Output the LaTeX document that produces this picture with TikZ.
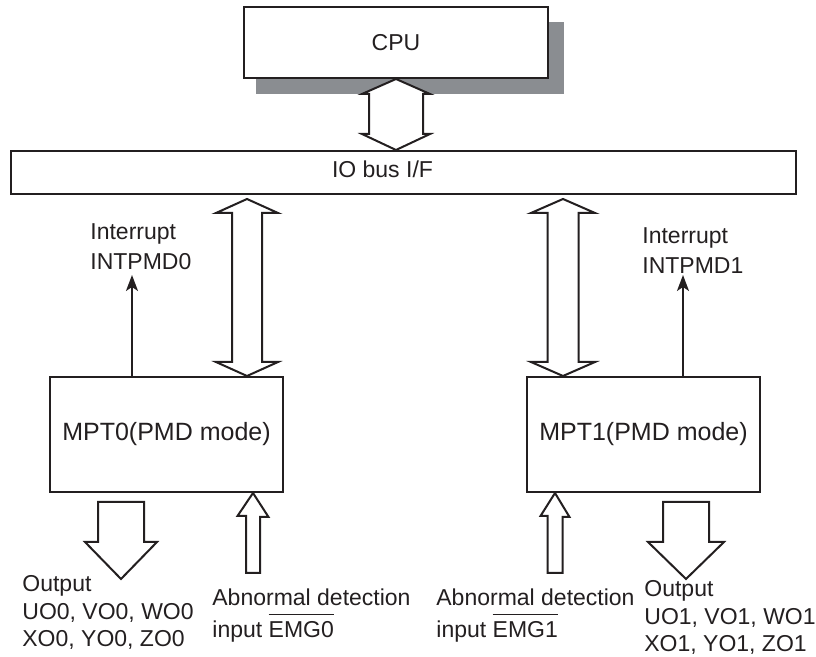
\documentclass[tikz,border=0pt]{standalone}
\usepackage{fontspec}
\setmainfont{Liberation Sans}
\usetikzlibrary{positioning, arrows.meta, calc, backgrounds}
\definecolor{linedark}{RGB}{35,31,32}
\definecolor{shadowgray}{RGB}{138,141,145}

\begin{document}
\begin{tikzpicture}[
  % one unit = one pixel of the sketch, y runs downwards
  x=0.5pt, y=-0.5pt,
  >=Stealth,
  % box style
  blockbox/.style={
    draw=linedark, line width=1pt, fill=white, inner sep=0pt,
    text=linedark, font=\fontsize{11.5}{14}\selectfont
  },
  % hollow block arrow style
  blockarrow/.style={draw=linedark, line width=1pt, fill=white},
  % thin interrupt arrow
  intarrow/.style={draw=linedark, line width=1pt,
    -{Stealth[length=8pt, width=6pt, inset=2pt]}},
  % free text
  lbl/.style={
    anchor=north west, inner sep=0pt, align=left, text=linedark,
    font=\fontsize{11.5}{13.75}\selectfont
  }
]

\useasboundingbox (0,0) rectangle (816,657);

% ─── CPU and IO bus ─────────────────────────────────────────────────────────
\node[blockbox, minimum width=152pt, minimum height=35.5pt] (cpu)
  at (396,42.5) {CPU};
\begin{scope}[on background layer]
  \fill[shadowgray] ($(cpu.south west)+(13,15)$) rectangle ($(cpu.north east)+(15,16)$);
\end{scope}

\node[blockbox, minimum width=392.5pt, minimum height=21.5pt] (iobus)
  at (403.5,172.5) {};
\node[lbl, anchor=center] (iobuslbl) at (382.5,169) {IO bus I/F};

% cpu <-> bus
\draw[blockarrow] (cpu.south) -- ++(34,15) -- ++(-7,0)
  -- ($(cpu.south |- iobus.north)+(27,-16)$) -- ++(7,0)
  -- (cpu.south |- iobus.north) -- ++(-34,-16) -- ++(7,0)
  -- ($(cpu.south)+(-27,15)$) -- ++(-7,0) -- cycle;

% ─── MPT blocks ─────────────────────────────────────────────────────────────
\node[blockbox, minimum width=116.5pt, minimum height=57.5pt,
      font=\fontsize{12.5}{14}\selectfont] (mpt0)
  at (166.5,434.5) {MPT0(PMD mode)};
\node[blockbox, minimum width=116.5pt, minimum height=57.5pt,
      font=\fontsize{12.5}{14}\selectfont] (mpt1)
  at (643.5,434.5) {MPT1(PMD mode)};

% bus <-> MPT0
\coordinate (bus0) at (247,199);
\draw[blockarrow] (bus0) -- ++(31,14) -- ++(-16,0)
  -- ($(bus0 |- mpt0.north)+(15,-14)$) -- ++(16,0)
  -- (bus0 |- mpt0.north) -- ++(-31,-14) -- ++(16,0)
  -- ($(bus0)+(-15,14)$) -- ++(-16,0) -- cycle;

% bus <-> MPT1
\coordinate (bus1) at (563,199);
\draw[blockarrow] (bus1) -- ++(32,14) -- ++(-16.5,0)
  -- ($(bus1 |- mpt1.north)+(15.5,-14)$) -- ++(16.5,0)
  -- (bus1 |- mpt1.north) -- ++(-32,-14) -- ++(16.5,0)
  -- ($(bus1)+(-15.5,14)$) -- ++(-16.5,0) -- cycle;

% ─── Interrupts ─────────────────────────────────────────────────────────────
\node[lbl, font=\fontsize{11.5}{15}\selectfont] (int0lbl) at (90,223.5)
  {Interrupt\\INTPMD0};
\coordinate (int0) at (132,275);
\draw[intarrow] (int0 |- mpt0.north) -- (int0);

\node[lbl, font=\fontsize{11.5}{15}\selectfont] (int1lbl) at (642,227)
  {Interrupt\\INTPMD1};
\coordinate (int1) at (683,275);
\draw[intarrow] (int1 |- mpt1.north) -- (int1);

% ─── Outputs ────────────────────────────────────────────────────────────────
\coordinate (out0) at ($(mpt0.south west)+(72,9)$);
\draw[blockarrow] ($(out0)+(-23,0)$) -- ++(46,0) -- ++(0,40) -- ++(13,0)
  -- ++(-36,37) -- ++(-36,-37) -- ++(13,0) -- cycle;
\node[lbl] (out0lbl) at (22,575.5) {Output\\UO0, VO0, WO0\\XO0, YO0, ZO0};

\coordinate (out1) at ($(mpt1.south west)+(160,9)$);
\draw[blockarrow] ($(out1)+(-23,0)$) -- ++(46,0) -- ++(0,40) -- ++(15,0)
  -- ++(-38,37) -- ++(-38,-37) -- ++(15,0) -- cycle;
\node[lbl] (out1lbl) at (644,580.5) {Output\\UO1, VO1, WO1\\XO1, YO1, ZO1};

% ─── Abnormal detection inputs ──────────────────────────────────────────────
\coordinate (emg0) at (253,573);
\draw[blockarrow] (emg0 |- mpt0.south) -- ++(15.5,24) -- ++(-8.5,0)
  |- ($(emg0)+(-7,0)$) -- ++(0,-57) -- ++(-8.5,0) -- cycle;
\node[lbl, font=\fontsize{11.5}{16}\selectfont] (emg0lbl) at (212,588.5)
  {Abnormal detection\\input $\overline{\raisebox{0pt}[10pt]{EMG0}}$};

\coordinate (emg1) at (555,573);
\draw[blockarrow] (emg1 |- mpt1.south) -- ++(14.5,24) -- ++(-7,0)
  |- ($(emg1)+(-7.5,0)$) -- ++(0,-57) -- ++(-7,0) -- cycle;
\node[lbl, font=\fontsize{11.5}{16}\selectfont] (emg1lbl) at (436,588.5)
  {Abnormal detection\\input $\overline{\raisebox{0pt}[10pt]{EMG1}}$};

\end{tikzpicture}
\end{document}
